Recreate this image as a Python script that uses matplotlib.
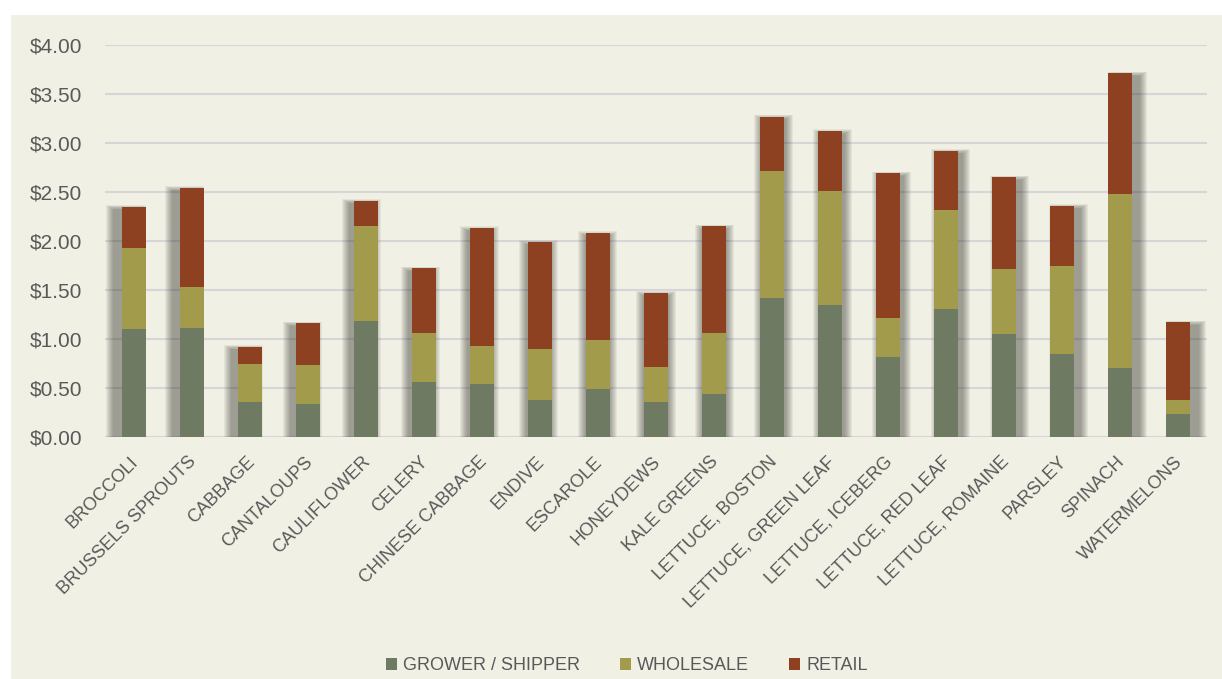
import matplotlib
matplotlib.use("Agg")
import matplotlib.pyplot as plt
from matplotlib.patches import Rectangle
from matplotlib.transforms import ScaledTranslation
import numpy as np

categories = ["BROCCOLI", "BRUSSELS SPROUTS", "CABBAGE", "CANTALOUPS", "CAULIFLOWER",
              "CELERY", "CHINESE CABBAGE", "ENDIVE", "ESCAROLE", "HONEYDEWS",
              "KALE GREENS", "LETTUCE, BOSTON", "LETTUCE, GREEN LEAF", "LETTUCE, ICEBERG",
              "LETTUCE, RED LEAF", "LETTUCE, ROMAINE", "PARSLEY", "SPINACH", "WATERMELONS"]
grower = [1.10, 1.11, 0.36, 0.34, 1.18, 0.56, 0.54, 0.38, 0.49, 0.36,
          0.44, 1.42, 1.35, 0.82, 1.31, 1.05, 0.85, 0.70, 0.23]
wholesale = [0.83, 0.42, 0.39, 0.39, 0.97, 0.50, 0.39, 0.52, 0.50, 0.35,
             0.62, 1.29, 1.16, 0.39, 1.01, 0.66, 0.90, 1.78, 0.15]
retail = [0.42, 1.01, 0.17, 0.43, 0.26, 0.66, 1.20, 1.09, 1.09, 0.76,
          1.09, 0.56, 0.61, 1.48, 0.60, 0.94, 0.61, 1.23, 0.79]
series_names = ["GROWER / SHIPPER", "WHOLESALE", "RETAIL"]
yticks = [0, 0.5, 1.0, 1.5, 2.0, 2.5, 3.0, 3.5, 4.0]

colors = ["#6E7B62", "#A39B4C", "#8E4121"]
bg = "#F1F0E5"
txt = "#595959"
font = "Liberation Sans"

W, H = 1222, 679
fig = plt.figure(figsize=(W / 100, H / 100), dpi=100, facecolor="white")
fig.patches.append(Rectangle((11 / W, 0), 1 - 11 / W, 1 - 15 / H, transform=fig.transFigure,
                             facecolor=bg, edgecolor="none", zorder=-10))

ax = fig.add_axes([105 / W, 1 - 437 / H, (1207 - 105) / W, (437 - 45) / H])
ax.set_facecolor("none")
x = np.arange(len(categories))
g = np.array(grower); w = np.array(wholesale); r = np.array(retail)
tot = g + w + r
bw = 0.40
ax.set_xlim(-0.5, len(categories) - 0.5)
ax.set_ylim(0, 4.0)

# soft perspective shadow (spreads outward from the chart centre)
pxx = 1 / 58.0
pxy = 1 / 98.0
mid = (len(categories) - 1) / 2
sx = x + (x - mid) * 0.0155
for k in range(8, 0, -1):
    ax.bar(sx, tot + k * 0.6 * pxy, width=bw + 2 * k * pxx,
           bottom=-3 * pxy, color="#202018", alpha=0.06, linewidth=0, zorder=1)

bottoms = np.zeros(len(categories))
for vals, c, name in zip([g, w, r], colors, series_names):
    ax.bar(x, vals, width=bw, bottom=bottoms, color=c, linewidth=0, zorder=3, label=name)
    bottoms = bottoms + vals

ax.set_yticks(yticks)
ax.set_yticklabels([f"${v:.2f}" for v in yticks], fontsize=15, color=txt, family=font)
ax.grid(axis="y", color="#D8D5D8", linewidth=1.5, zorder=0)
ax.set_axisbelow(True)
for s in ax.spines.values():
    s.set_visible(False)
ax.tick_params(axis="y", length=0, pad=16.5)
ax.tick_params(axis="x", length=0, pad=16)

ax.set_xticks(x)
ax.set_xticklabels(categories, rotation=45, ha="right", va="center", rotation_mode="anchor",
                   fontsize=13, color=txt, family=font)
off = ScaledTranslation(2 / 100, 0, fig.dpi_scale_trans)
for lab in ax.get_xticklabels():
    lab.set_transform(lab.get_transform() + off)

fs_px = 13 / 0.72
leg = ax.legend(loc="center", bbox_to_anchor=(627 / W, 1 - 666 / H),
                bbox_transform=fig.transFigure, ncol=3, frameon=False,
                prop={"family": font, "size": 13},
                handlelength=11 / fs_px, handleheight=11 / fs_px,
                handletextpad=6 / fs_px, columnspacing=40 / fs_px,
                borderpad=0, borderaxespad=0)
for t in leg.get_texts():
    t.set_color(txt)

fig.savefig("out.png", dpi=100, facecolor="white")
